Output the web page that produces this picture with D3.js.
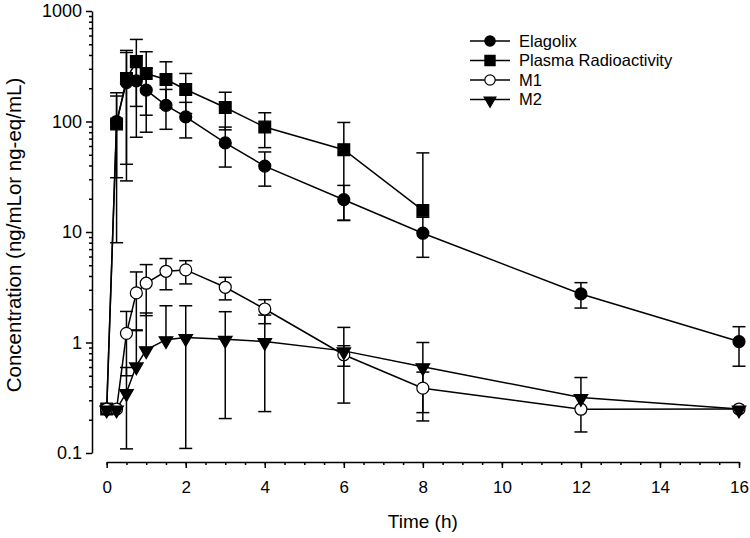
<!DOCTYPE html>
<html>
<head>
<meta charset="utf-8">
<script src="https://cdn.jsdelivr.net/npm/d3@7"></script>
<style>
  body { margin: 0; background: #fff; }
  svg { font-family: "Liberation Sans", Arial, sans-serif; }
</style>
</head>
<body>
<svg id="chart" width="750" height="538"></svg>
<script>
// sampling times (h)
const time = [0, 0.25, 0.5, 0.75, 1, 1.5, 2, 3, 4, 6, 8, 12, 16];

// mean and error bar ends (null = not drawn)
const elagolix   = [0.25, 100, 225, 233, 192, 140, 110, 64, 39.5, 19.6, 9.75, 2.75, 1.02];
const elagolixHi = [null, 170, 421, 394, 304, 195, 149, 89, 53, 26.4, 13.6, 3.48, 1.39];
const elagolixLo = [null, 31, 29, 72, 80, 85, 71, 38.7, 26, 12.8, 5.9, 2.05, 0.61];

const plasma   = [0.25, 95, 245, 347, 272, 240, 195, 134, 89, 55.6, 15.7, null, null];
const plasmaHi = [null, 182, 440, 553, 428, 347, 272, 184, 120, 98, 52, null, null];
const plasmaLo = [null, 8, 41, 137, 114, 133, 118, 84, 58, 12.7, null, null, null];

const m1   = [0.25, 0.25, 1.21, 2.81, 3.44, 4.41, 4.54, 3.16, 2.01, 0.775, 0.386, 0.249, 0.25];
const m1Hi = [null, null, 1.91, 4.35, 5.07, 5.75, 5.5, 3.89, 2.44, 0.935, 0.54, null, null];
const m1Lo = [null, null, 0.50, 1.28, 1.75, 3.0, 3.39, 2.43, 1.48, 0.61, 0.232, null, null];

const m2   = [0.25, 0.25, 0.352, 0.615, 0.86, 1.06, 1.11, 1.07, 1.02, 0.84, 0.603, 0.318, 0.25];
const m2Hi = [null, null, 0.594, 1.3, 1.85, 2.15, 2.15, 1.9, 1.77, 1.37, 1.0, 0.482, null];
const m2Lo = [null, null, 0.109, null, null, null, 0.11, 0.205, 0.237, 0.283, 0.195, 0.155, null];

const seriesNames = ["Elagolix", "Plasma Radioactivity", "M1", "M2"];
const xTicks = [0, 2, 4, 6, 8, 10, 12, 14, 16];
const yTicks = [0.1, 1, 10, 100, 1000];

const series = [
    {name: seriesNames[0], mean: elagolix, hi: elagolixHi, lo: elagolixLo, shape: "circle", fill: "#000"},
    {name: seriesNames[1], mean: plasma, hi: plasmaHi, lo: plasmaLo, shape: "square", fill: "#000"},
    {name: seriesNames[2], mean: m1, hi: m1Hi, lo: m1Lo, shape: "circle", fill: "#fff"},
    {name: seriesNames[3], mean: m2, hi: m2Hi, lo: m2Lo, shape: "triangle", fill: "#000"}
];

const svg = d3.select("#chart");

const x = d3.scaleLinear().domain([0, 16]).range([106.7, 739]);
const y = d3.scaleLog().domain([0.1, 1000]).range([453, 11]);
const xAxisY = 462, yAxisX = 92;

// axes
const xAxis = svg.append("g").attr("transform", `translate(0,${xAxisY})`)
    .call(d3.axisBottom(x).tickValues(xTicks).tickFormat(d3.format("d")).tickSize(6).tickSizeOuter(0));
svg.append("g").attr("transform", `translate(0,${xAxisY})`)
    .call(d3.axisBottom(x).tickValues(d3.range(0, 16.01, 0.5)).tickFormat("").tickSize(3).tickSizeOuter(0))
    .select(".domain").remove();

const minorY = [];
[0.1, 1, 10, 100].forEach(d => { for (let k = 2; k <= 9; k++) minorY.push(d * k); });
const yAxis = svg.append("g").attr("transform", `translate(${yAxisX},0)`)
    .call(d3.axisLeft(y).tickValues(yTicks).tickFormat(d => d === 0.1 ? "0.1" : String(d)).tickSize(6).tickSizeOuter(0));
svg.append("g").attr("transform", `translate(${yAxisX},0)`)
    .call(d3.axisLeft(y).tickValues(minorY).tickFormat("").tickSize(3).tickSizeOuter(0))
    .select(".domain").remove();

svg.selectAll(".domain, .tick line").attr("stroke", "#000").attr("stroke-width", 1.5);
xAxis.selectAll(".tick text").attr("font-size", 17).attr("fill", "#000").attr("dy", "22px");
yAxis.selectAll(".tick text").attr("font-size", 18).attr("fill", "#000").attr("x", -10);

svg.append("text").attr("x", (x(0) + x(16)) / 2).attr("y", 528)
    .attr("text-anchor", "middle").attr("font-size", 19).text("Time (h)");
svg.append("text").attr("transform", `translate(21,${(y(0.1) + y(1000)) / 2 + 3}) rotate(-90)`)
    .attr("text-anchor", "middle").attr("font-size", 20.5).text("Concentration (ng/mLor ng-eq/mL)");

function symbolPath(shape, scale) {
    if (shape === "circle") return d3.symbol(d3.symbolCircle, 113 * scale)();
    if (shape === "square") return d3.symbol(d3.symbolSquare, 138 * scale)();
    return d3.symbol(d3.symbolTriangle, 80 * scale)();
}
function symbolTransform(shape, px, py) {
    return shape === "triangle" ? `translate(${px},${py + 1}) rotate(180)` : `translate(${px},${py})`;
}

const plot = svg.append("g");
const cap = 6.5;

// error bars
series.forEach(s => {
    const g = plot.append("g").attr("stroke", "#000").attr("stroke-width", 1.5);
    time.forEach((t, i) => {
        if (s.mean[i] == null) return;
        [s.hi[i], s.lo[i]].forEach(v => {
            if (v == null) return;
            g.append("line").attr("x1", x(t)).attr("x2", x(t)).attr("y1", y(s.mean[i])).attr("y2", y(v));
            g.append("line").attr("x1", x(t) - cap).attr("x2", x(t) + cap).attr("y1", y(v)).attr("y2", y(v));
        });
    });
});

// lines
const line = d3.line().defined(d => d[1] != null).x(d => x(d[0])).y(d => y(d[1]));
series.forEach(s => {
    plot.append("path").datum(time.map((t, i) => [t, s.mean[i]]))
        .attr("d", line).attr("fill", "none").attr("stroke", "#000").attr("stroke-width", 1.5);
});

// markers
series.forEach(s => {
    plot.append("g").selectAll("path")
        .data(time.map((t, i) => [t, s.mean[i]]).filter(d => d[1] != null))
        .join("path")
        .attr("d", symbolPath(s.shape, 1))
        .attr("transform", d => symbolTransform(s.shape, x(d[0]), y(d[1])))
        .attr("fill", s.fill).attr("stroke", "#000").attr("stroke-width", 1.2);
});

// legend
const legend = svg.append("g");
series.forEach((s, i) => {
    const ly = 41 + i * 19.5;
    legend.append("line").attr("x1", 470).attr("x2", 510).attr("y1", ly).attr("y2", ly)
        .attr("stroke", "#000").attr("stroke-width", 1.5);
    legend.append("path").attr("d", symbolPath(s.shape, 0.75))
        .attr("transform", symbolTransform(s.shape, 490, ly))
        .attr("fill", s.fill).attr("stroke", "#000").attr("stroke-width", 1.2);
    legend.append("text").attr("x", 519).attr("y", ly).attr("dy", "0.36em")
        .attr("font-size", 16.5).text(s.name);
});
</script>
</body>
</html>
